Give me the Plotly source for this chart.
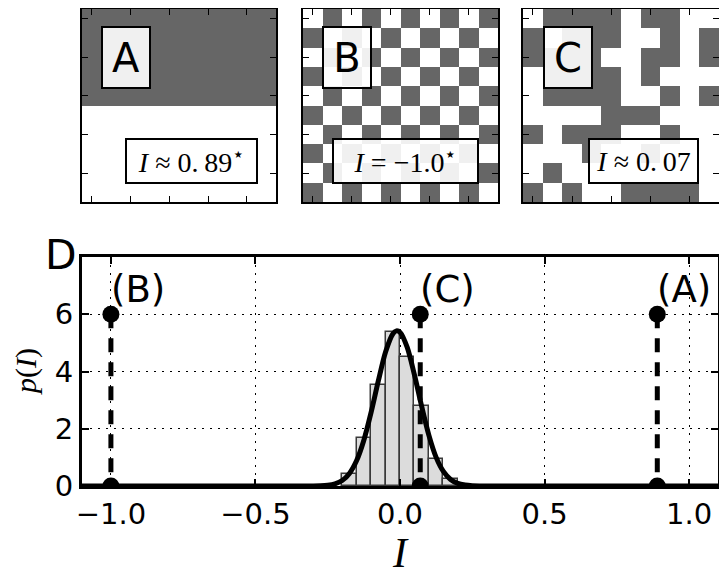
import plotly.graph_objects as go

W, H = 727, 575
OFF = 8  # default <body> margin of the written page

# ---------------- data ----------------
PATTERN_A = [
    "1111111111", "1111111111", "1111111111", "1111111111", "1111111111",
    "0000000000", "0000000000", "0000000000", "0000000000", "0000000000",
]
PATTERN_B = [
    "0101010101", "1010101010", "0101010101", "1010101010", "0101010101",
    "1010101010", "0101010101", "1010101010", "0101010101", "1010101010",
]
PATTERN_C = [
    "0111101100", "1011100101", "1111001101", "0111101000", "0111100101",
    "0000111000", "1011100100", "0001001000", "0100000000", "1010011110",
]
PANEL_LABELS = ["A", "B", "C"]
PANEL_TEXT = ["<i>I</i> ≈ 0.\u200989<sup>⋆</sup>",
              "<i>I</i> = −1.0<sup>⋆</sup>",
              "<i>I</i> ≈ 0.\u200907"]
I_VALUES = [0.89, -1.0, 0.07]          # A, B, C
MARK_LABELS = ["(A)", "(B)", "(C)"]
MARK_HEIGHT = 6

BIN_LEFT = [-0.2, -0.15, -0.1, -0.05, 0.0, 0.05, 0.1, 0.15]
BIN_WIDTH = 0.05
HIST_DENSITY = [0.43, 1.67, 3.53, 5.38, 4.52, 2.80, 0.96, 0.24]

CURVE_X = [-1.1, -0.5, -0.35, -0.3, -0.275, -0.25, -0.225, -0.2, -0.175, -0.15,
           -0.125, -0.1, -0.075, -0.05, -0.025, -0.0125, 0.0, 0.025, 0.05, 0.075,
           0.1, 0.125, 0.15, 0.175, 0.2, 0.225, 0.25, 0.275, 0.3, 0.35, 0.5, 1.1]
CURVE_Y = [0, 0, 0.0001, 0.002, 0.008, 0.027, 0.077, 0.19, 0.44, 0.89,
           1.60, 2.57, 3.67, 4.68, 5.31, 5.42, 5.37, 4.84, 3.88, 2.78,
           1.77, 1.00, 0.51, 0.23, 0.09, 0.033, 0.01, 0.003, 0.001, 0, 0, 0]

X_TICKS = [-1.0, -0.5, 0.0, 0.5, 1.0]
X_TICKTEXT = ["−1.0", "−0.5", "0.0", "0.5", "1.0"]
Y_TICKS = [0, 2, 4, 6]
Y_TICKTEXT = ["0", "2", "4", "6"]

# ---------------- helpers ----------------
def px(x):
    return (x - OFF) / W

def py(y):
    return 1 - (y - OFF) / H

SANS = "DejaVu Sans"
SERIF = "Liberation Serif"
DARK = "#666666"

fig = go.Figure()

# ---------------- image panels ----------------
panel_x = [(82, 276), (303, 498), (523, 719)]
panel_y = (9, 202)
patterns = [PATTERN_A, PATTERN_B, PATTERN_C]
for k, pat in enumerate(patterns):
    z = [[int(ch) for ch in row] for row in pat]
    n = k + 2
    fig.add_trace(go.Heatmap(
        z=z, x=list(range(10)), y=list(range(10)),
        colorscale=[[0, "white"], [1, DARK]], zmin=0, zmax=1,
        showscale=False, hoverinfo="skip",
        xaxis=f"x{n}", yaxis=f"y{n}",
    ))
    common = dict(showgrid=False, zeroline=False, showticklabels=False,
                  ticks="inside", ticklen=6, tickwidth=1, tickcolor="black",
                  tickvals=[0, 2, 4, 6, 8], showline=True, linewidth=2,
                  linecolor="black", mirror="ticks", fixedrange=True,
                  automargin=False)
    fig.layout[f"xaxis{n}"] = dict(domain=[px(panel_x[k][0]), px(panel_x[k][1])],
                                   range=[-0.5, 9.5], anchor=f"y{n}", **common)
    fig.layout[f"yaxis{n}"] = dict(domain=[py(panel_y[1]), py(panel_y[0])],
                                   range=[9.5, -0.5], anchor=f"x{n}", **common)

# ---------------- main plot ----------------
fig.add_trace(go.Bar(
    x=BIN_LEFT, y=HIST_DENSITY, width=BIN_WIDTH, offset=0,
    marker=dict(color="#dcdcdc", line=dict(color="#3a3a3a", width=1.5)),
    hoverinfo="skip",
))
fig.add_trace(go.Scatter(
    x=CURVE_X, y=CURVE_Y, mode="lines",
    line=dict(color="black", width=5, shape="spline", smoothing=0.8),
    hoverinfo="skip",
))
for v in I_VALUES:
    fig.add_trace(go.Scatter(
        x=[v, v], y=[MARK_HEIGHT, 0], mode="lines+markers",
        line=dict(color="black", width=5, dash="14px,10px"),
        marker=dict(color="black", size=17, symbol="circle"),
        hoverinfo="skip",
    ))

main_common = dict(showgrid=True, gridcolor="black", gridwidth=1, griddash="2px,6px",
                   zeroline=False, ticks="inside", ticklen=7, tickwidth=1.5,
                   tickcolor="black", showline=True, linewidth=3, linecolor="black",
                   mirror="ticks", tickfont=dict(family=SANS, size=29, color="black"),
                   fixedrange=True, automargin=False)
fig.update_layout(
    xaxis=dict(domain=[px(82), px(718)], range=[-1.1, 1.1],
               tickvals=X_TICKS, ticktext=X_TICKTEXT, anchor="y", **main_common),
    yaxis=dict(domain=[py(486), py(257)], range=[0, 8],
               tickvals=Y_TICKS, ticktext=Y_TICKTEXT, anchor="x", **main_common),
)

annotations = []
# panel letter boxes
label_centers = [(125.7, 58), (346.7, 58), (567.5, 58)]
for lab, (cx, cy) in zip(PANEL_LABELS, label_centers):
    annotations.append(dict(
        x=px(cx), y=py(cy), xref="paper", yref="paper", text=lab,
        showarrow=False, xanchor="center", yanchor="middle",
        font=dict(family=SANS, size=40, color="black"),
        bgcolor="rgba(255,255,255,0.9)", bordercolor="black", borderwidth=2,
        borderpad=0, width=46, height=59, align="center", valign="middle",
    ))
# formula boxes
formula_boxes = [(191.5, 161, 133), (405, 161, 147), (643.5, 161, 111)]
for txt, (cx, cy, bw) in zip(PANEL_TEXT, formula_boxes):
    annotations.append(dict(
        x=px(cx), y=py(cy), xref="paper", yref="paper", text=txt,
        showarrow=False, xanchor="center", yanchor="middle",
        font=dict(family=SERIF, size=28, color="black"),
        bgcolor="rgba(255,255,255,0.9)", bordercolor="black", borderwidth=2,
        borderpad=0, width=bw - 4, height=42, align="center", valign="middle",
    ))
# marker labels
for v, lab in zip(I_VALUES, MARK_LABELS):
    annotations.append(dict(
        x=v, y=MARK_HEIGHT, xref="x", yref="y", text=lab, showarrow=False,
        xanchor="left", yanchor="middle", yshift=25, xshift=-2,
        font=dict(family=SANS, size=37, color="black"),
    ))
# "D"
annotations.append(dict(
    x=px(61), y=py(255), xref="paper", yref="paper", text="D", showarrow=False,
    xanchor="center", yanchor="middle",
    font=dict(family=SANS, size=41, color="black"),
))
# axis titles
annotations.append(dict(
    x=px(400), y=py(553), xref="paper", yref="paper", text="<i>I</i>",
    showarrow=False, xanchor="center", yanchor="middle",
    font=dict(family=SERIF, size=42, color="black"),
))
annotations.append(dict(
    x=px(26), y=py(372), xref="paper", yref="paper", text="<i>p</i>(<i>I</i>)",
    showarrow=False, xanchor="center", yanchor="middle", textangle=-90,
    font=dict(family=SERIF, size=30, color="black"),
))

fig.update_layout(
    template="none",
    width=W, height=H, autosize=False, margin=dict(l=0, r=0, t=0, b=0, pad=0),
    paper_bgcolor="white", plot_bgcolor="white", showlegend=False,
    annotations=annotations, bargap=0,
)

fig.write_html("out.html")
